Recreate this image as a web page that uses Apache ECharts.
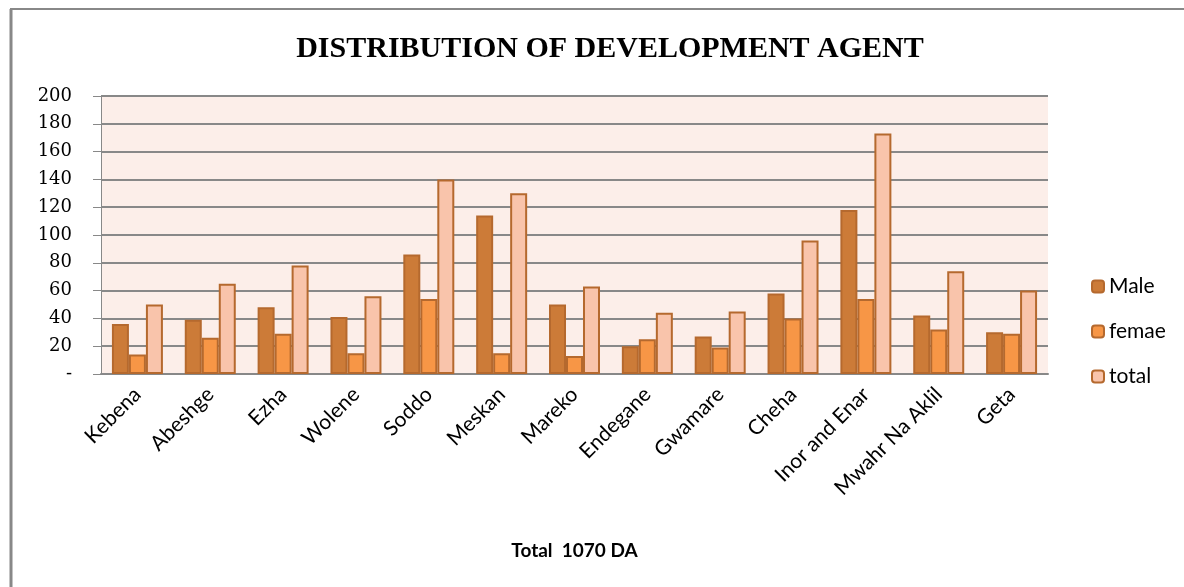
<!DOCTYPE html>
<html>
<head>
<meta charset="utf-8">
<script src="https://cdn.jsdelivr.net/npm/echarts@6/dist/echarts.min.js"></script>
<style>
html,body{margin:0;padding:0;background:#fff;}
#c{width:1184px;height:587px;}
</style>
</head>
<body>
<div id="c"></div>
<script>
var categories = ["Kebena","Abeshge","Ezha","Wolene","Soddo","Meskan","Mareko","Endegane","Gwamare","Cheha","Inor and Enar","Mwahr Na Aklil","Geta"];
var male   = [36, 39, 48, 41, 86, 114, 50, 20, 27, 58, 118, 42, 30];
var female = [14, 26, 29, 15, 54, 15, 13, 25, 19, 40, 54, 32, 29];
var total  = [50, 65, 78, 56, 140, 130, 63, 44, 45, 96, 173, 74, 60];
var yTicks = [0, 20, 40, 60, 80, 100, 120, 140, 160, 180, 200];

var chart = echarts.init(document.getElementById('c'));
var border = '#B5692E';
function s(name, data, color) {
  return {
    name: name, type: 'bar', data: data,
    barGap: '0%', barCategoryGap: '30%',
    itemStyle: { color: color, borderColor: border, borderWidth: 2 }
  };
}
chart.setOption({
  animation: false,
  backgroundColor: '#ffffff',
  title: {
    text: 'DISTRIBUTION OF DEVELOPMENT AGENT',
    left: 605, top: 29, textAlign: 'center',
    textStyle: { fontFamily: 'Liberation Serif', fontWeight: 'bold', fontSize: 30, color: '#000' }
  },
  graphic: [
    { type: 'line', shape: { x1: 11, y1: 9, x2: 11, y2: 587 }, style: { stroke: '#888', lineWidth: 3 } },
    { type: 'line', shape: { x1: 10, y1: 9, x2: 1184, y2: 9 }, style: { stroke: '#888', lineWidth: 2 } }
  ],
  legend: {
    orient: 'vertical', left: 1086, top: 271,
    itemWidth: 12, itemHeight: 12, itemGap: 24,
    textStyle: { fontFamily: 'Lato', fontSize: 21, color: '#000' },
    data: ['Male', 'femae', 'total']
  },
  grid: {
    left: 101, right: 136, top: 96, bottom: 213,
    show: true, backgroundColor: '#FCEEE9', borderWidth: 0
  },
  xAxis: {
    type: 'category', data: categories,
    name: 'Total  1070 DA', nameLocation: 'middle', nameGap: 167,
    nameTextStyle: { fontFamily: 'Lato', fontWeight: 'bold', fontSize: 19, color: '#000' },
    axisLine: { lineStyle: { color: '#888', width: 2 } },
    axisTick: { show: false },
    axisLabel: { rotate: 45, margin: 17, interval: 0, fontFamily: 'Lato', fontSize: 21, color: '#000' }
  },
  yAxis: {
    type: 'value', min: 0, max: 200, interval: 20,
    axisLine: { show: true, lineStyle: { color: '#888', width: 1 } },
    axisTick: { show: true, length: 8, lineStyle: { color: '#888', width: 1 } },
    splitLine: { lineStyle: { color: '#888', width: 2 } },
    axisLabel: {
      margin: 29, fontFamily: 'DejaVu Serif', fontSize: 18, color: '#000',
      formatter: function (v) { return v === yTicks[0] ? '-' : String(v); }
    }
  },
  series: [
    s('Male', male, '#CC7B38'),
    s('femae', female, '#F79646'),
    s('total', total, '#F9C4AB')
  ]
});
</script>
</body>
</html>
